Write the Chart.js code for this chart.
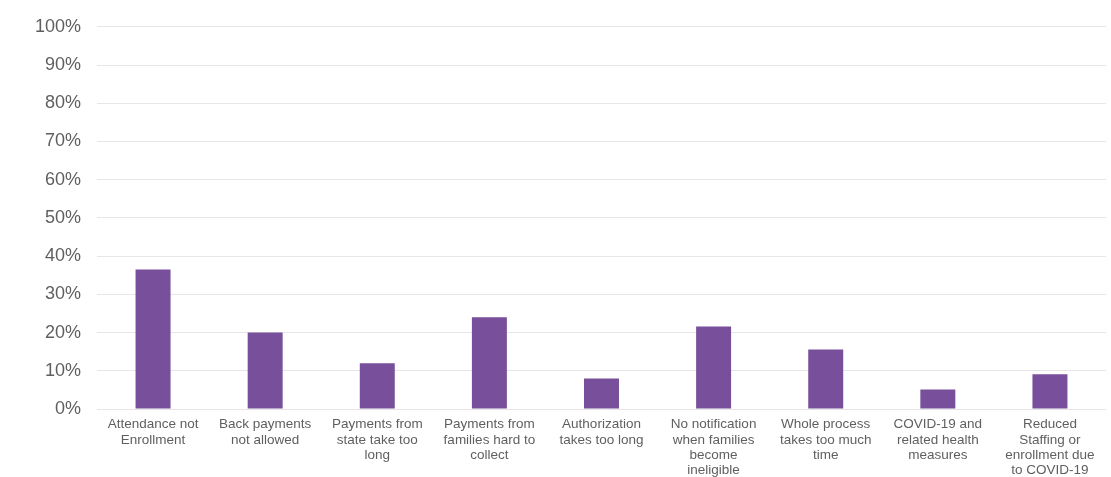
<!DOCTYPE html>
<html>
<head>
<meta charset="utf-8">
<script src="https://cdn.jsdelivr.net/npm/chart.js@4"></script>
<style>
  html, body { margin: 0; padding: 0; background: #fff; }
  #wrap { width: 1111px; height: 477px; }
</style>
</head>
<body>
<div id="wrap"><canvas id="barriersChart"></canvas></div>
<script>
const categories = [
  ["Attendance not", "Enrollment"],
  ["Back payments", "not allowed"],
  ["Payments from", "state take too", "long"],
  ["Payments from", "families hard to", "collect"],
  ["Authorization", "takes too long"],
  ["No notification", "when families", "become", "ineligible"],
  ["Whole process", "takes too much", "time"],
  ["COVID-19 and", "related health", "measures"],
  ["Reduced", "Staffing or", "enrollment due", "to COVID-19"],
];
const percentages = [36.5, 20, 12, 24, 8, 21.6, 15.6, 5.1, 9.1];
const yTicks = [0, 10, 20, 30, 40, 50, 60, 70, 80, 90, 100];

const data = {
  labels: categories,
  datasets: [
    {
      label: "Share",
      backgroundColor: "rgb(120,79,154)",
      data: percentages,
      barPercentage: 0.312,
      categoryPercentage: 1,
    },
  ],
};

const config = {
  type: "bar",
  data,
  options: {
    responsive: true,
    maintainAspectRatio: false,
    animation: false,
    layout: { padding: { top: 21, right: 5, left: 0, bottom: 0 } },
    plugins: { legend: { display: false }, tooltip: { enabled: false } },
    scales: {
      x: {
        grid: { display: false, drawTicks: false },
        border: { display: false },
        ticks: {
          color: "#5f5f5f",
          padding: 8,
          maxRotation: 0,
          autoSkip: false,
          font: { family: "'Liberation Sans', Arial, sans-serif", size: 13.5, lineHeight: 1.13 },
        },
        afterFit: (axis) => { axis.height = 68; },
      },
      y: {
        min: 0,
        max: 100,
        afterBuildTicks: (axis) => { axis.ticks = yTicks.map((v) => ({ value: v })); },
        grid: { color: "#e6e6e6", drawTicks: false },
        border: { display: false },
        ticks: {
          color: "#5f5f5f",
          padding: 16,
          callback: (v) => v + "%",
          font: { family: "'Liberation Sans', Arial, sans-serif", size: 18 },
        },
        afterFit: (axis) => { axis.width = 97; },
      },
    },
  },
};

new Chart(document.getElementById("barriersChart"), config);
</script>
</body>
</html>
